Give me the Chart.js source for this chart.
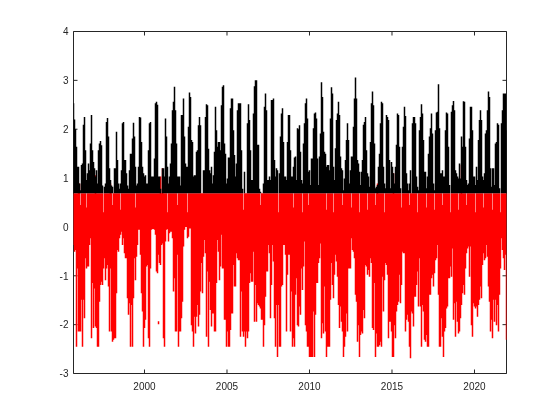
<!DOCTYPE html>
<html>
<head>
<meta charset="utf-8">
<style>html,body{margin:0;padding:0;background:#fff}canvas{display:block}</style>
<script src="https://cdn.jsdelivr.net/npm/chart.js@4"></script>
</head>
<body>
<canvas id="c" width="560" height="420"></canvas>
<script>
const xTickValues = [2000, 2005, 2010, 2015, 2020];
const yTickValues = [-3, -2, -1, 0, 1, 2, 3, 4];
const firstYear = 1995.697;
const samplesPerYear = 16.5;
const lastYear = 2021.94;
const clipLevel = 0.69;

const blackPeaks = [
2.53,2.2,2.0,1.64,1.23,1.23,.89,.75,1.27,1.3,
2.09,2.25,1.57,.96,1.1,1.3,1.16,1.71,2.29,1.57,
1.33,1.2,1.03,1.16,.89,1.57,1.71,1.76,1.67,.85,
.69,.82,.89,2.15,2.23,1.85,1.2,.96,.85,.82,
.69,1.2,1.2,1.95,1.37,.89,.78,.89,1.16,2.12,
2.15,1.37,1.37,1.1,.85,.78,1.16,1.5,1.5,1.81,
2.13,1.85,1.23,.85,.89,1.23,2.25,2.24,1.74,1.23,
1.1,1.03,1.06,.89,.89,1.57,2.12,2.15,1.03,1.03,
1.03,1.4,2.53,2.56,2.5,1.03,1.03,.78,.69,1.2,
1.2,1.03,2.22,1.85,1.23,.89,1.03,1.3,1.71,2.39,
2.56,2.87,2.39,1.71,1.03,1.03,1.03,.85,2.29,2.29,
2.63,1.85,1.3,1.23,1.23,2.05,2.75,2.66,1.78,1.74,
1.03,1.06,1.06,1.54,1.57,2.08,2.25,2.08,.69,.69,
1.16,1.16,2.25,2.51,2.49,1.6,1.16,1.1,1.23,.89,
1.06,1.54,2.46,1.98,1.64,1.74,1.74,1.57,2.49,2.87,
2.9,1.71,1.5,.89,.99,1.42,1.42,2.43,2.63,2.63,
1.98,1.47,1.03,1.3,2.39,2.53,2.53,2.53,1.57,.78,
.69,1.13,.69,.69,2.12,2.51,2.19,1.57,.96,.96,
2.32,2.88,3.0,3.0,1.68,1.68,.78,.72,.69,.69,
.89,2.46,2.73,2.39,.96,.96,1.03,.96,2.6,2.6,
2.63,1.37,1.03,1.2,1.16,.69,1.1,1.85,2.32,2.43,
1.74,1.03,1.03,.96,1.74,2.29,2.29,1.57,1.03,1.03,
1.23,1.42,1.44,.96,2.02,2.0,2.08,1.54,.96,.89,
1.71,2.12,2.53,2.63,2.22,1.13,1.16,.86,1.4,1.4,
2.02,2.32,2.34,2.22,1.4,.86,1.44,1.91,2.96,2.66,
1.95,1.54,1.5,1.23,1.27,1.27,1.16,2.22,2.86,2.73,
1.23,.96,1.61,2.19,2.32,2.56,2.29,1.44,1.2,1.16,
.75,.99,1.37,1.78,2.12,1.78,.89,1.16,1.44,1.44,
2.05,2.63,3.06,2.63,1.37,1.3,1.13,.86,1.13,1.37,
2.09,2.15,2.25,1.57,1.1,1.03,.82,1.74,2.53,2.77,
2.49,1.71,.79,.82,.86,1.23,1.5,2.12,2.56,2.53,
1.23,.89,.79,2.29,2.25,2.19,1.37,.79,1.33,1.23,
1.1,.89,1.23,1.68,2.32,2.29,1.64,.79,.69,1.64,
2.05,2.46,2.27,1.1,.89,.75,.89,1.16,.69,2.12,
2.25,2.25,2.12,1.03,.82,.75,1.98,2.25,2.51,2.32,
1.78,1.13,1.13,.79,1.03,1.5,1.85,2.02,2.32,1.91,
.89,.75,1.98,2.34,2.36,2.92,2.02,1.1,1.1,1.16,
1.03,1.03,1.98,2.34,2.32,1.64,.86,.69,2.36,2.49,
2.58,2.39,1.16,1.1,1.03,.99,1.3,.99,1.85,1.64,
2.57,2.56,1.64,.96,.86,.89,1.81,2.46,2.46,1.98,
1.03,1.03,.86,1.23,.96,1.78,2.19,2.39,2.19,1.03,
.96,1.1,1.91,1.98,2.39,2.77,2.66,1.2,.82,1.2,
1.2,.86,1.71,1.74,2.12,2.09,.79,.69,2.12,2.39,
2.73,2.73,2.73,1.98
];

const redTroughs = [
-.37,-.51,-.47,-2.45,-.85,-2.14,-2.14,-2.14,-1.49,-2.45,
-1.49,-1.87,-.64,-.85,-.81,-.81,-.37,-.23,-2.28,-1.15,
-2.07,-1.26,-2.04,-2.07,-2.45,-2.45,-1.53,-1.19,-1.12,-1.19,
-.85,-.64,-1.09,-.85,-.78,-1.22,-2.14,-.85,-2.14,-2.35,
-2.31,-2.28,-2.28,-1.36,-.47,-.51,-.23,-.16,-.10,-.37,
-.23,-.54,-.64,-.64,-1.46,-1.80,-1.56,-2.45,-1.60,-2.45,
-1.46,-.64,-1.09,-.61,-.37,-.06,-.06,-.57,-1.36,-1.73,
-2.45,-2.07,-1.90,-.81,-.78,-2.28,-2.45,-.85,-.06,-.04,
-.04,-.06,-.16,-.91,-.95,-.57,-.74,-.78,-.37,-.34,
-2.28,-2.45,-.30,-.06,-.04,-.30,-.13,-.10,-.10,-.23,
-1.32,-1.05,-2.14,-2.14,-.57,-2.45,-2.14,-2.14,-1.87,-1.53,
-.40,-.06,0,0,-.23,-.20,-.03,-.03,-2.01,-2.14,
-2.45,-1.84,-2.18,-1.84,-1.60,-2.04,-1.80,-1.32,-.74,-1.36,
-.61,-.27,-.54,-2.25,-.91,-2.45,-1.12,-1.70,-2.04,-1.77,
-1.77,-2.14,-2.14,-1.15,-.27,-.51,-1.09,-.81,-.16,-.85,
-.85,-1.90,-1.90,-2.45,-2.14,-2.45,-2.45,-2.11,-1.77,-1.77,
-.78,-1.22,-1.22,-.54,-.64,-.68,-.68,-2.25,-1.32,-2.14,
-2.25,-2.14,-2.45,-2.14,-2.28,-2.14,-1.15,-.95,-1.12,-1.12,
-.51,-1.94,-1.19,-1.94,-1.56,-1.60,-1.63,-1.67,-1.90,-1.90,
-2.45,-2.01,-1.43,-.91,-.91,-.37,-.54,-1.87,-1.19,-.37,
-.71,-1.87,-2.45,-1.60,-2.66,-1.60,-2.45,-2.45,-1.22,-1.19,
-.37,-.37,-.57,-2.14,-.98,-.57,-.57,-2.14,-1.32,-2.45,
-2.28,-2.45,-1.39,-1.05,-2.01,-2.04,-1.63,-1.80,-.85,-1.29,
-.81,-.30,-2.01,-2.14,-2.45,-2.45,-2.66,-2.66,-2.66,-2.66,
-1.73,-2.66,-1.80,-1.15,-1.15,-.74,-.64,-.34,-2.28,-1.97,
-2.18,-1.22,-2.14,-2.66,-2.45,-2.45,-2.45,-1.49,-.74,-1.19,
-1.46,-.98,-.57,-.71,-1.02,-1.60,-2.07,-1.63,-1.94,-2.14,
-2.66,-2.45,-2.25,-1.77,-2.14,-.85,-.85,-.85,-.23,-.47,
-.51,-.64,-1.39,-1.53,-2.35,-2.01,-2.66,-2.21,-2.14,-2.18,
-1.70,-1.87,-.78,-.81,-.98,-.88,-1.02,-.64,-.74,-2.07,
-2.11,-1.15,-2.66,-2.18,-2.45,-2.45,-2.42,-2.35,-2.45,-1.02,
-1.73,-1.09,-.74,-.78,-.98,-2.28,-1.94,-1.94,-2.14,-2.66,
-2.66,-2.01,-2.28,-1.73,-1.60,-1.53,-.98,-1.56,-1.19,-.51,
-.54,-.54,-2.14,-1.90,-1.80,-1.94,-2.45,-2.69,-1.73,-1.77,
-2.04,-1.43,-1.43,-1.19,-.91,-1.63,-.64,-1.63,-2.45,-1.60,
-1.73,-2.31,-2.35,-2.21,-2.45,-2.45,-1.39,-1.39,-1.05,-.98,
-1.22,-.95,-.68,-.64,-.37,-1.39,-2.45,-2.45,-1.87,-2.25,
-2.66,-2.14,-2.07,-1.67,-1.63,-1.05,-1.05,-.81,-1.02,-.44,
-1.90,-1.56,-2.25,-1.53,-1.94,-2.18,-2.14,-1.87,-1.60,-1.36,
-1.19,-1.39,-.85,-.54,-.44,-.40,-1.02,-.40,-2.01,-2.25,
-1.56,-1.63,-1.67,-1.63,-1.84,-1.60,-1.49,-1.22,-1.46,-.78,
-.54,-.68,-.64,-.37,-.61,-1.22,-1.53,-2.14,-1.90,-2.28,
-1.49,-1.94,-1.49,-2.01,-1.60,-2.14,-1.39,-.85,-.23,-.47,
-.64,-.88,-.57,-2.31
];

// samples where the red series does not reach the clip level, or pokes above it
const redExceptionSamples = [7,13,30,39,47,62,94,104,114,170,187,205,220,229,235,253,260,269,278,286,294,302,311,328,336,344,353,361,369,377,385,393,402,410,419,427,
  5,6,22,37,87,89,304,320,388];
const redExceptionTops = [.45,.4,.3,.45,.35,.4,.3,.45,.3,.35,.45,.3,.4,.3,.45,.35,.3,.45,.4,.3,.35,.45,.3,.4,.45,.3,.4,.35,.45,.3,.35,.45,.3,.4,.35,.3,
  .89,.89,1.06,.89,1.03,1.2,.89,1.1,1.27];
const redSpeckYear = 2000.85;
const redSpeckValues = [-1.93, -1.99];

const timeAt = i => firstYear + 0.0002 + i / samplesPerYear;

const blackData = [];
blackPeaks.forEach((v, i) => {
  const x = timeAt(i);
  if (v > clipLevel) blackData.push({x, y: clipLevel}, {x, y: v}, {x, y: null});
});
const redData = [];
redTroughs.forEach((v, i) => {
  const x = timeAt(i);
  const k = redExceptionSamples.indexOf(i);
  const top = k >= 0 ? redExceptionTops[k] : clipLevel;
  redData.push({x, y: v}, {x, y: top}, {x, y: null});
});
const speckData = redSpeckValues.map(v => ({x: redSpeckYear, y: v}));

const INK = '#262626';
const axesPlugin = {
  id: 'octaveFrame',
  beforeDatasetsDraw(chart) {
    const {ctx, chartArea: a, scales: {x, y}} = chart;
    ctx.save();
    ctx.strokeStyle = INK;
    ctx.lineWidth = 1;
    ctx.beginPath();
    ctx.rect(a.left, a.top, a.right - a.left, a.bottom - a.top);
    xTickValues.forEach(v => {
      const p = x.getPixelForValue(v);
      ctx.moveTo(p, a.bottom); ctx.lineTo(p, a.bottom - 4);
      ctx.moveTo(p, a.top); ctx.lineTo(p, a.top + 4);
    });
    yTickValues.forEach(v => {
      const p = y.getPixelForValue(v);
      ctx.moveTo(a.left, p); ctx.lineTo(a.left + 4, p);
      ctx.moveTo(a.right, p); ctx.lineTo(a.right - 4, p);
    });
    ctx.stroke();
    ctx.restore();
  }
};

const font = {family: '"Liberation Sans", Arial, sans-serif', size: 10};
const seriesStyle = {borderWidth: 1.5, pointRadius: 0, spanGaps: false, tension: 0, borderCapStyle: 'butt'};

new Chart(document.getElementById('c'), {
  type: 'line',
  data: {
    datasets: [
      {data: blackData, borderColor: '#000000', ...seriesStyle},
      {data: redData, borderColor: '#ff0000', ...seriesStyle},
      {data: speckData, borderColor: '#ff0000', ...seriesStyle}
    ]
  },
  plugins: [axesPlugin],
  options: {
    responsive: false,
    animation: false,
    devicePixelRatio: 1,
    layout: {padding: {top: 31.5, right: 53.5, left: 0, bottom: 0}},
    plugins: {legend: {display: false}, tooltip: {enabled: false}, title: {display: false}},
    scales: {
      x: {
        type: 'linear',
        min: firstYear,
        max: lastYear,
        afterBuildTicks: s => { s.ticks = xTickValues.map(value => ({value})); },
        afterFit: s => { s.height = 46.5; },
        border: {display: false},
        grid: {display: false, drawTicks: false},
        ticks: {color: INK, font, padding: 8, maxRotation: 0, autoSkip: false, callback: v => String(v)}
      },
      y: {
        type: 'linear',
        min: -3,
        max: 4,
        afterBuildTicks: s => { s.ticks = yTickValues.map(value => ({value})); },
        afterFit: s => { s.width = 73.5; },
        border: {display: false},
        grid: {display: false, drawTicks: false},
        ticks: {color: INK, font, padding: 5, labelOffset: 1, autoSkip: false, callback: v => String(v)}
      }
    }
  }
});
</script>
</body>
</html>
